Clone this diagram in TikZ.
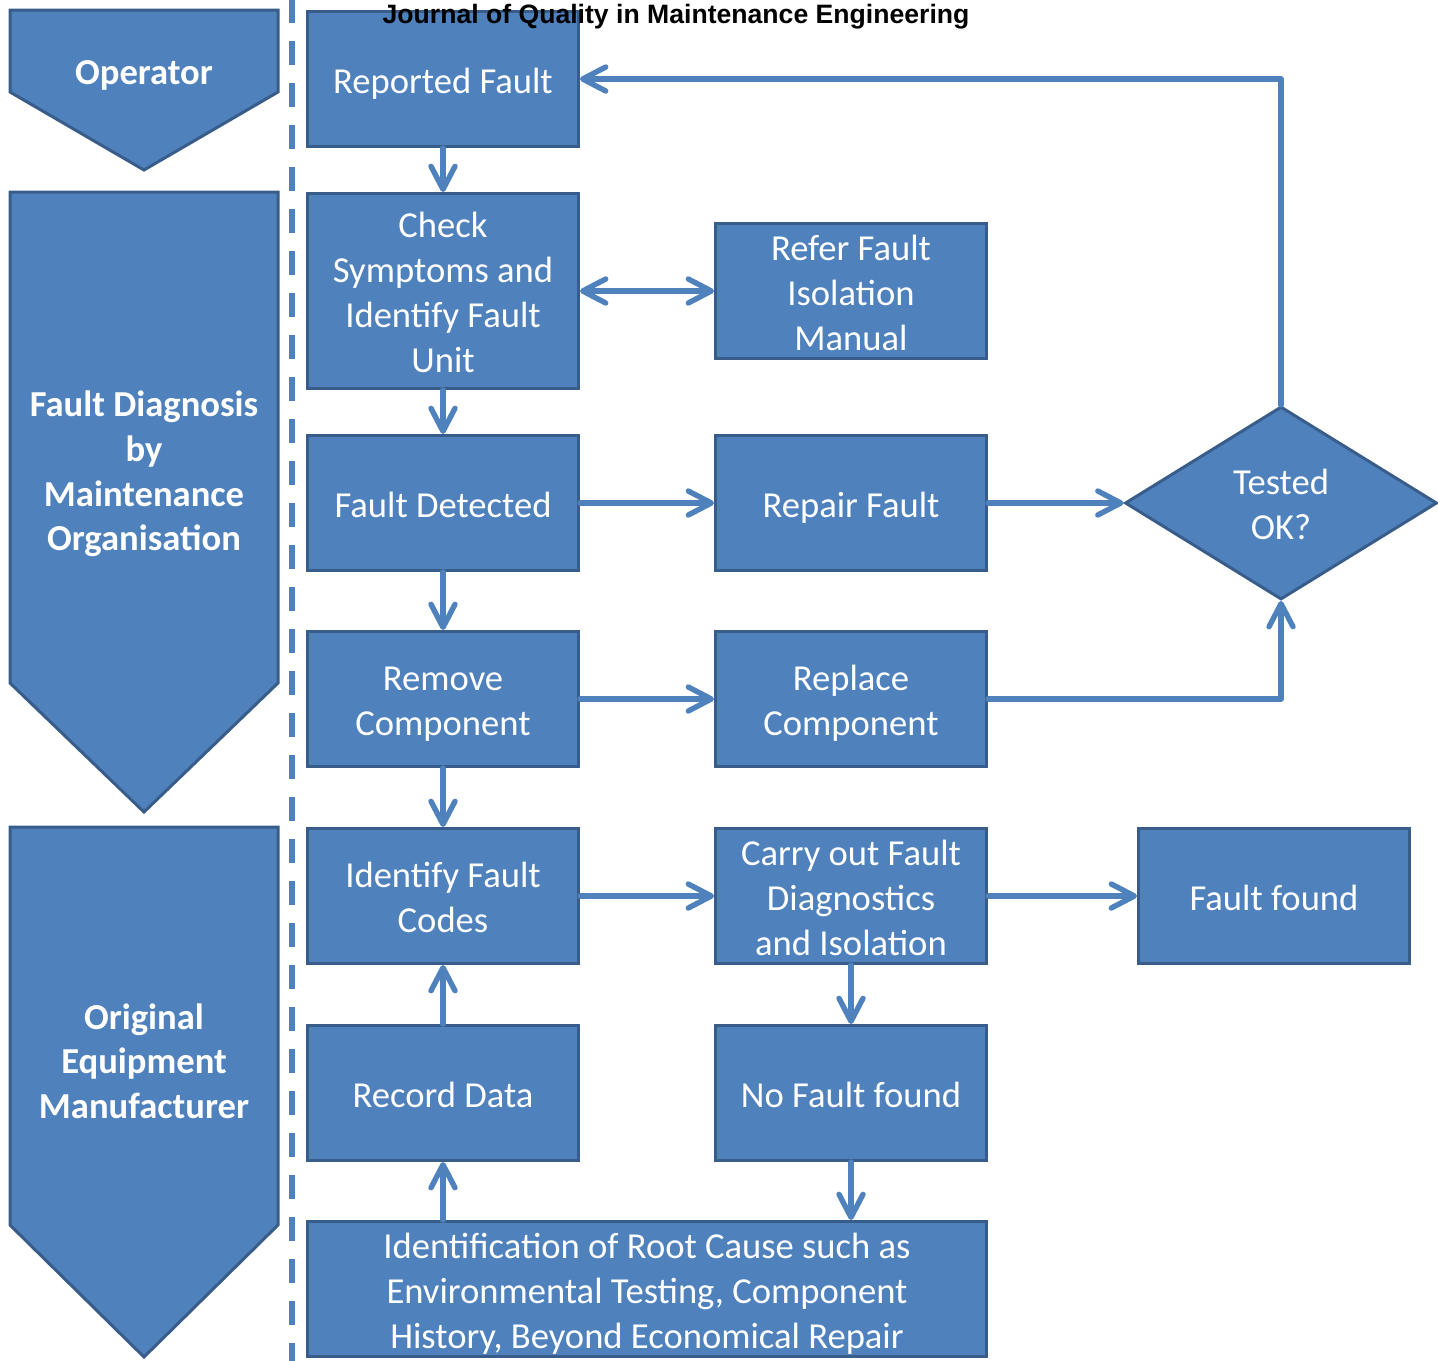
\documentclass[tikz,border=0pt]{standalone}
\usepackage{fontspec}
\setmainfont{Carlito}
\newfontfamily\hdrfont{Liberation Sans}
\usetikzlibrary{arrows.meta,shapes.geometric}
\definecolor{boxfill}{HTML}{4F81BD}
\definecolor{boxline}{HTML}{385D8A}
\newcommand\linestrut{\rule[-4.25pt]{0pt}{22.5pt}}
\begin{document}
\begin{tikzpicture}[x=0.5pt,y=-0.5pt,
  >={Straight Barb[length=11.5pt,width=12pt,round]},
  txt/.style={text=white, align=center, font=\fontsize{18.3}{22.5}\selectfont,
    execute at begin node=\linestrut, execute at end node=\linestrut},
  lane/.style={draw=boxline, fill=boxfill, line width=1.5pt, line join=miter},
  lanetxt/.style={text=white, align=center, font=\bfseries\fontsize{18.3}{22.3}\selectfont},
  box/.style={draw=boxline, fill=boxfill, line width=1.5pt, minimum width=135.5pt, minimum height=67.5pt, inner sep=0pt, txt},
  tallbox/.style={box, minimum height=97.5pt},
  widebox/.style={box, minimum width=339.5pt},
  decision/.style={diamond, draw=boxline, fill=boxfill, line width=1.5pt, minimum width=156pt, minimum height=96.5pt, inner sep=0pt, txt},
  conn/.style={draw=boxfill, line width=2.7pt, line cap=round, line join=round, ->},
]
\useasboundingbox (0,0) rectangle (1438,1360);

% swim lanes
\path[lane] (10,10) -- (278,10) -- (278,92) -- (144,170) -- (10,92) -- cycle;
\path[lane] (10,192) -- (278,192) -- (278,683) -- (144,812) -- (10,683) -- cycle;
\path[lane] (10,827) -- (278,827) -- (278,1225) -- (144,1357) -- (10,1225) -- cycle;
\node[lanetxt] (lop) at (144,75) {Operator};
\node[lanetxt] (lfd) at (144,474) {Fault Diagnosis\\by\\Maintenance\\Organisation};
\node[lanetxt] (loem) at (144,1061) {Original\\Equipment\\Manufacturer};

% separator
\draw[boxfill, line width=3pt, dash pattern=on 12pt off 9pt] (292,-1) -- (292,1362);

% boxes
\node[box] (rep) at (443,79) {Reported Fault};
\node[tallbox] (chk) at (443,291) {\linestrut Check\\Symptoms and\\Identify Fault\\Unit};
\node[box] (ref) at (851,291) {\linestrut Refer Fault\\Isolation\\Manual};
\node[box] (det) at (443,503) {Fault Detected};
\node[box] (rpr) at (851,503) {Repair Fault};
\node[decision] (tst) at (1281,503) {\linestrut Tested\\OK?};
\node[box] (rem) at (443,699) {\linestrut Remove\\Component};
\node[box] (rpl) at (851,699) {\linestrut Replace\\Component};
\node[box] (idc) at (443,896) {\linestrut Identify Fault\\Codes};
\node[box] (car) at (851,896) {\linestrut Carry out Fault\\Diagnostics\\and Isolation};
\node[box] (ffd) at (1274,896) {Fault found};
\node[box] (rec) at (443,1093) {Record Data};
\node[box] (nff) at (851,1093) {No Fault found};
\node[widebox] (roo) at (647,1289) {\linestrut Identification of Root Cause such as\\Environmental Testing, Component\\History, Beyond Economical Repair};

% connectors
\draw[conn] (rep) -- (chk);
\draw[conn,<->] (chk) -- (ref);
\draw[conn] (chk) -- (det);
\draw[conn] (det) -- (rpr);
\draw[conn] (rpr) -- (tst);
\draw[conn] (tst.north) |- (rep.east);
\draw[conn] (det) -- (rem);
\draw[conn] (rem) -- (rpl);
\draw[conn] (rpl.east) -| (tst.south);
\draw[conn] (rem) -- (idc);
\draw[conn] (idc) -- (car);
\draw[conn] (car) -- (ffd);
\draw[conn] (car) -- (nff);
\draw[conn] (nff) -- (nff |- roo.north);
\draw[conn] (rec |- roo.north) -- (rec);
\draw[conn] (rec) -- (idc);

% header
\node[font=\hdrfont\bfseries\fontsize{13.3}{16}\selectfont] (hdr) at (676,17) {Journal of Quality in Maintenance Engineering};
\end{tikzpicture}
\end{document}
